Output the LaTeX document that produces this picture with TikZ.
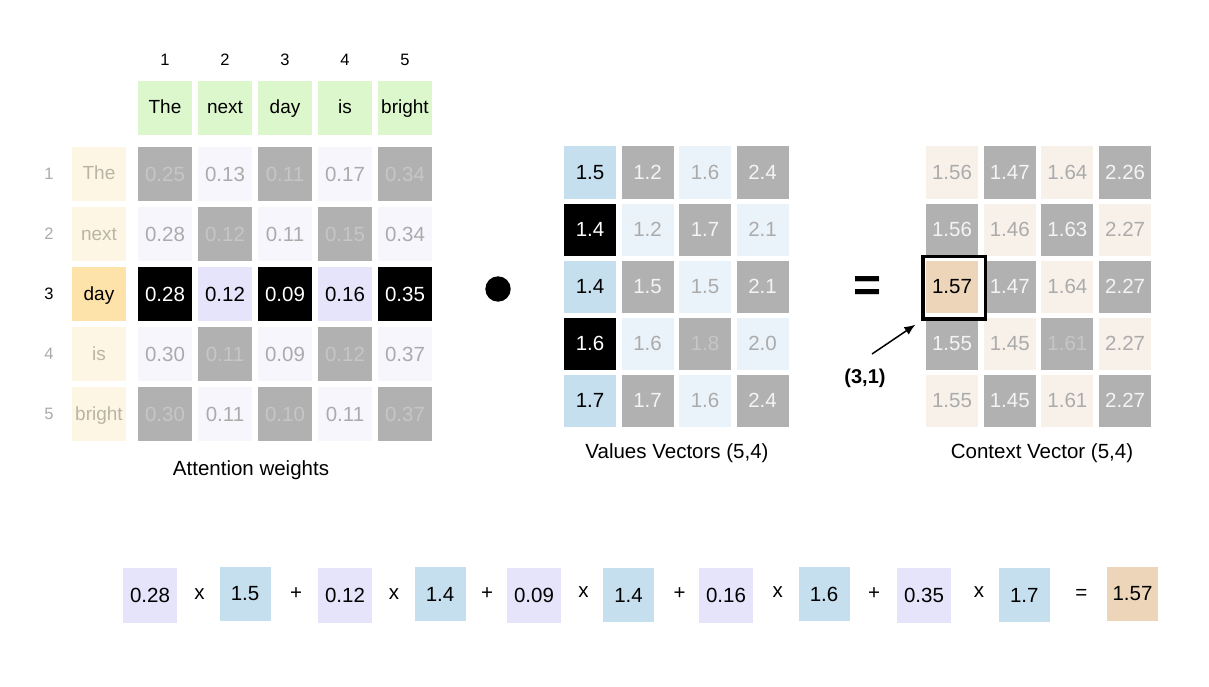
\documentclass[tikz,border=0pt]{standalone}
\usepackage{fontspec}
\setmainfont{Liberation Sans}
\usetikzlibrary{arrows.meta}
\definecolor{hgreen}{HTML}{DDF7CC}
\definecolor{rowbg}{HTML}{FEF6E5}
\definecolor{daybg}{HTML}{FDE2AA}
\definecolor{gcell}{HTML}{B1B1B1}
\definecolor{lcell}{HTML}{F7F6FD}
\definecolor{lav}{HTML}{E6E4FA}
\definecolor{vblue}{HTML}{C6DFEE}
\definecolor{vlight}{HTML}{EBF3FA}
\definecolor{clight}{HTML}{F7F1EA}
\definecolor{ctan}{HTML}{EDD5BA}
\definecolor{txtgray}{HTML}{ABABAB}
\definecolor{txtfade}{HTML}{C6C6C6}
\definecolor{rowtxt}{HTML}{BAB4A6}
\definecolor{wtxt}{HTML}{F4F4F4}
\newcommand\cellfont{\fontsize{20.5}{23}\selectfont}
\newcommand\wordfont{\fontsize{19}{22}\selectfont}
\newcommand\smallfont{\fontsize{16.5}{19}\selectfont}
\begin{document}
\begin{tikzpicture}[x=1pt,y=-1pt,
  every node/.style={inner sep=0pt,font=\cellfont},
  acell/.style={minimum width=54pt,minimum height=54pt},
  vcell/.style={minimum width=52pt,minimum height=52pt},
  aG/.style={fill=gcell,text=txtfade},
  aL/.style={fill=lcell,text=txtgray},
  aK/.style={fill=black,text=white},
  aV/.style={fill=lav,text=black},
  aB/.style={fill=vblue,text=black},
  aP/.style={fill=vlight,text=txtgray},
  aW/.style={fill=gcell,text=wtxt},
  aF/.style={fill=gcell,text=txtfade},
  aC/.style={fill=clight,text=txtgray},
  aT/.style={fill=ctan,text=black},
  wordcell/.style={acell,font=\wordfont,text height=12pt,text depth=0pt},
  numlbl/.style={font=\smallfont},
  caption/.style={font=\cellfont},
  lavbox/.style={fill=lav,minimum width=54pt,minimum height=55pt},
  bluebox/.style={fill=vblue,minimum width=51pt,minimum height=54pt},
  tanbox/.style={fill=ctan,minimum width=51pt,minimum height=54pt},
  op/.style={font=\cellfont},
  hlbox/.style={draw=black,line width=3.3pt,minimum width=62.7pt,minimum height=62.4pt},
  pointer/.style={line width=1.5pt,-{Latex[length=11pt,width=9pt]}}
]
\useasboundingbox[fill=white] (0,0) rectangle (1209,687);

% ---------- attention weights ----------
\foreach \c/\w in {1/The,2/next,3/day,4/is,5/bright}{
  \node[numlbl] (cn-\c) at ({165+60*(\c-1)},60) {\c};
  \node[wordcell,fill=hgreen] (h-\c) at ({165+60*(\c-1)},108) {\w};
}
\foreach \r/\w in {1/The,2/next,4/is,5/bright}{
  \node[numlbl,text=txtgray] (rn-\r) at (49,{174+60*(\r-1)}) {\r};
  \node[wordcell,fill=rowbg,text=rowtxt] (rl-\r) at (99,{174+60*(\r-1)}) {\w};
}
\node[numlbl,text=black] (rn-3) at (49,294) {3};
\node[wordcell,fill=daybg,text=black] (rl-3) at (99,294) {day};

\foreach[count=\c] \s/\v in {G/0.25,L/0.13,G/0.11,L/0.17,G/0.34}
  \node[acell,a\s] (a-1-\c) at ({165+60*(\c-1)},174) {\v};
\foreach[count=\c] \s/\v in {L/0.28,G/0.12,L/0.11,G/0.15,L/0.34}
  \node[acell,a\s] (a-2-\c) at ({165+60*(\c-1)},234) {\v};
\foreach[count=\c] \s/\v in {K/0.28,V/0.12,K/0.09,V/0.16,K/0.35}
  \node[acell,a\s] (a-3-\c) at ({165+60*(\c-1)},294) {\v};
\foreach[count=\c] \s/\v in {L/0.30,G/0.11,L/0.09,G/0.12,L/0.37}
  \node[acell,a\s] (a-4-\c) at ({165+60*(\c-1)},354) {\v};
\foreach[count=\c] \s/\v in {G/0.30,L/0.11,G/0.10,L/0.11,G/0.37}
  \node[acell,a\s] (a-5-\c) at ({165+60*(\c-1)},414) {\v};
\node[caption] (cap-a) at (251,470) {Attention weights};

% ---------- dot ----------
\node[circle,fill=black,minimum size=25.4pt] (dot) at (498,289) {};

% ---------- values ----------
\foreach[count=\c] \s/\v in {B/1.5,W/1.2,P/1.6,W/2.4}
  \node[vcell,a\s] (v-1-\c) at ({590+57.5*(\c-1)},172.5) {\v};
\foreach[count=\c] \s/\v in {K/1.4,P/1.2,W/1.7,P/2.1}
  \node[vcell,a\s] (v-2-\c) at ({590+57.5*(\c-1)},229.5) {\v};
\foreach[count=\c] \s/\v in {B/1.4,W/1.5,P/1.5,W/2.1}
  \node[vcell,a\s] (v-3-\c) at ({590+57.5*(\c-1)},286.5) {\v};
\foreach[count=\c] \s/\v in {K/1.6,P/1.6,F/1.8,P/2.0}
  \node[vcell,a\s] (v-4-\c) at ({590+57.5*(\c-1)},343.5) {\v};
\foreach[count=\c] \s/\v in {B/1.7,W/1.7,P/1.6,W/2.4}
  \node[vcell,a\s] (v-5-\c) at ({590+57.5*(\c-1)},400.5) {\v};
\node[caption] (cap-v) at (677,453) {Values Vectors (5,4)};

% ---------- equals ----------
\node[font=\fontsize{48}{50}\selectfont\bfseries] (eq) at (868,289) {=};

% ---------- context ----------
\foreach[count=\c] \s/\v in {C/1.56,W/1.47,C/1.64,W/2.26}
  \node[vcell,a\s] (c-1-\c) at ({952+57.7*(\c-1)},172.5) {\v};
\foreach[count=\c] \s/\v in {W/1.56,C/1.46,W/1.63,C/2.27}
  \node[vcell,a\s] (c-2-\c) at ({952+57.7*(\c-1)},229.5) {\v};
\foreach[count=\c] \s/\v in {T/1.57,W/1.47,C/1.64,W/2.27}
  \node[vcell,a\s] (c-3-\c) at ({952+57.7*(\c-1)},286.5) {\v};
\foreach[count=\c] \s/\v in {W/1.55,C/1.45,F/1.61,C/2.27}
  \node[vcell,a\s] (c-4-\c) at ({952+57.7*(\c-1)},343.5) {\v};
\foreach[count=\c] \s/\v in {C/1.55,W/1.45,C/1.61,W/2.27}
  \node[vcell,a\s] (c-5-\c) at ({952+57.7*(\c-1)},400.5) {\v};
\node[caption] (cap-c) at (1042,453) {Context Vector (5,4)};

\node[hlbox] (hl) at (954.2,287.9) {};
\node[font=\fontsize{20}{23}\selectfont\bfseries] (lbl31) at (865,378) {(3,1)};
\coordinate (a0) at (872,354);
\draw[pointer,shorten >=7pt] (a0) -- (hl.south west);

% ---------- bottom equation ----------
\node[lavbox] (b1) at (150,595) {0.28};
\node[op] (o1) at (199.5,594) {x};
\node[bluebox] (b2) at (245,594) {1.5};
\node[op] (o2) at (296,594) {+};
\node[lavbox] (b3) at (345,595) {0.12};
\node[op] (o3) at (394,594) {x};
\node[bluebox] (b4) at (440,594) {1.4};
\node[op] (o4) at (487,594) {+};
\node[lavbox] (b5) at (534,595) {0.09};
\node[op] (o5) at (583.5,592) {x};
\node[bluebox] (b6) at (628.5,595) {1.4};
\node[op] (o6) at (679.6,594) {+};
\node[lavbox] (b7) at (726,595) {0.16};
\node[op] (o7) at (777.7,592) {x};
\node[bluebox] (b8) at (824,594) {1.6};
\node[op] (o8) at (874,594) {+};
\node[lavbox] (b9) at (924,595) {0.35};
\node[op] (o9) at (979,592) {x};
\node[bluebox] (b10) at (1024.3,595) {1.7};
\node[op] (o10) at (1081.4,594) {=};
\node[tanbox] (b11) at (1132.5,594) {1.57};
\end{tikzpicture}
\end{document}
